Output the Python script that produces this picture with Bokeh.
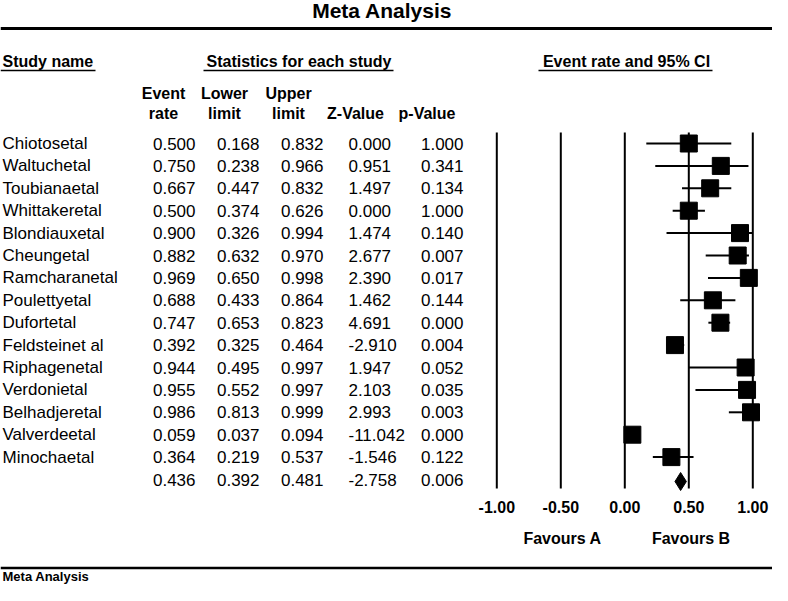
from bokeh.plotting import figure
from bokeh.models import Range1d
from bokeh.embed import file_html
from bokeh.resources import INLINE
from bokeh.core.properties import value

# ---------------- data ----------------
studies = ["Chiotosetal", "Waltuchetal", "Toubianaetal", "Whittakeretal", "Blondiauxetal",
           "Cheungetal", "Ramcharanetal", "Poulettyetal", "Dufortetal", "Feldsteinet al",
           "Riphagenetal", "Verdonietal", "Belhadjeretal", "Valverdeetal", "Minochaetal"]
event_rate = [0.500, 0.750, 0.667, 0.500, 0.900, 0.882, 0.969, 0.688, 0.747, 0.392,
              0.944, 0.955, 0.986, 0.059, 0.364]
lower_limit = [0.168, 0.238, 0.447, 0.374, 0.326, 0.632, 0.650, 0.433, 0.653, 0.325,
               0.495, 0.552, 0.813, 0.037, 0.219]
upper_limit = [0.832, 0.966, 0.832, 0.626, 0.994, 0.970, 0.998, 0.864, 0.823, 0.464,
               0.997, 0.997, 0.999, 0.094, 0.537]
z_value = [0.000, 0.951, 1.497, 0.000, 1.474, 2.677, 2.390, 1.462, 4.691, -2.910,
           1.947, 2.103, 2.993, -11.042, -1.546]
p_value = [1.000, 0.341, 0.134, 1.000, 0.140, 0.007, 0.017, 0.144, 0.000, 0.004,
           0.052, 0.035, 0.003, 0.000, 0.122]
summary_rate = 0.436
summary_lower = 0.392
summary_upper = 0.481
summary_z = -2.758
summary_p = 0.006
ticks = [-1.00, -0.50, 0.00, 0.50, 1.00]
title_text = "Meta Analysis"
favours = ["Favours A", "Favours B"]

# ---------------- layout constants (pixels) ----------------
W, H = 772, 585
X0 = 624.3      # pixel position of event rate 0
S = 128.0       # pixels per unit of event rate
Y0 = 143.0      # first study row (pixels from top)
DY = 22.4       # row spacing

def fx(px):
    return (px - X0) / S

FONT = value("Liberation Sans")
n = len(studies)
rows = [Y0 + DY * i for i in range(n)]
sum_y = Y0 + DY * n

p = figure(width=W, height=H, output_backend="svg", toolbar_location=None,
           x_range=Range1d(fx(0), fx(W)), y_range=Range1d(H, 0),
           x_axis_type=None, y_axis_type=None, min_border=0,
           outline_line_color=None, background_fill_color="white",
           border_fill_color="white")
p.xgrid.visible = False
p.ygrid.visible = False

# title and rules
p.text(x=[fx(381.7)], y=[10], text=[title_text], text_font=FONT, text_font_size="21px",
       text_font_style="bold", text_align="center", text_baseline="middle", color="black")
p.segment(x0=[fx(0)], y0=[28], x1=[fx(W)], y1=[28], line_width=3, line_color="black")
p.segment(x0=[fx(0)], y0=[567.5], x1=[fx(W)], y1=[567.5], line_width=2.5, line_color="black")
p.text(x=[fx(2)], y=[575.5], text=[title_text], text_font=FONT, text_font_size="13px",
       text_font_style="bold", text_align="left", text_baseline="middle", color="black")

# section headers with underlines
hdr = dict(text_font=FONT, text_font_size="16px", text_font_style="bold",
           text_baseline="middle", color="black")
p.text(x=[fx(2)], y=[61.2], text=["Study name"], text_align="left", **hdr)
p.text(x=[fx(298.5)], y=[61.2], text=["Statistics for each study"], text_align="center", **hdr)
p.text(x=[fx(626)], y=[61.2], text=["Event rate and 95% CI"], text_align="center", **hdr)
p.segment(x0=[fx(0), fx(203), fx(538)], y0=[70, 70, 70],
          x1=[fx(95), fx(393), fx(712)], y1=[70, 70, 70], line_width=1.5, line_color="black")

# column headers
col_c = [163, 224, 288]
p.text(x=[fx(c) for c in col_c], y=[93.3] * 3, text=["Event", "Lower", "Upper"],
       text_align="center", **hdr)
col_c2 = [163, 224, 288, 355, 426.5]
p.text(x=[fx(c) for c in col_c2], y=[112.7] * 5,
       text=["rate", "limit", "limit", "Z-Value", "p-Value"], text_align="center", **hdr)

# table body
body = dict(text_font=FONT, text_font_size="17px", text_baseline="middle", color="black")
p.text(x=[fx(2)] * n, y=rows, text=studies, text_align="left", **body)
all_rows = rows + [sum_y]
rate_all = event_rate + [summary_rate]
low_all = lower_limit + [summary_lower]
up_all = upper_limit + [summary_upper]
z_all = z_value + [summary_z]
p_all = p_value + [summary_p]
m = len(all_rows)
p.text(x=[fx(195)] * m, y=all_rows, text=[f"{v:.3f}" for v in rate_all], text_align="right", **body)
p.text(x=[fx(259)] * m, y=all_rows, text=[f"{v:.3f}" for v in low_all], text_align="right", **body)
p.text(x=[fx(323)] * m, y=all_rows, text=[f"{v:.3f}" for v in up_all], text_align="right", **body)
p.text(x=[fx(348)] * m, y=all_rows, text=[f"{v:.3f}" for v in z_all], text_align="left", **body)
p.text(x=[fx(463)] * m, y=all_rows, text=[f"{v:.3f}" for v in p_all], text_align="right", **body)

# forest plot
p.segment(x0=ticks, y0=[132] * len(ticks), x1=ticks, y1=[488] * len(ticks),
          line_width=2, line_color="black")
p.segment(x0=lower_limit, y0=rows, x1=upper_limit, y1=rows, line_width=2, line_color="black")
p.scatter(x=event_rate, y=rows, marker="square", size=17, fill_color="black", line_color="black")
p.patch(x=[summary_lower, summary_rate, summary_upper, summary_rate],
        y=[sum_y + 2, sum_y - 7, sum_y + 2, sum_y + 11],
        fill_color="black", line_color="black")

# tick labels
p.text(x=ticks, y=[506.3] * len(ticks), text=[f"{t:.2f}" for t in ticks], text_align="center", **hdr)
p.text(x=[fx(562), fx(690.5)], y=[537.8, 537.8], text=favours, text_align="center", **hdr)

open("out.html", "w").write(file_html(p, INLINE))
